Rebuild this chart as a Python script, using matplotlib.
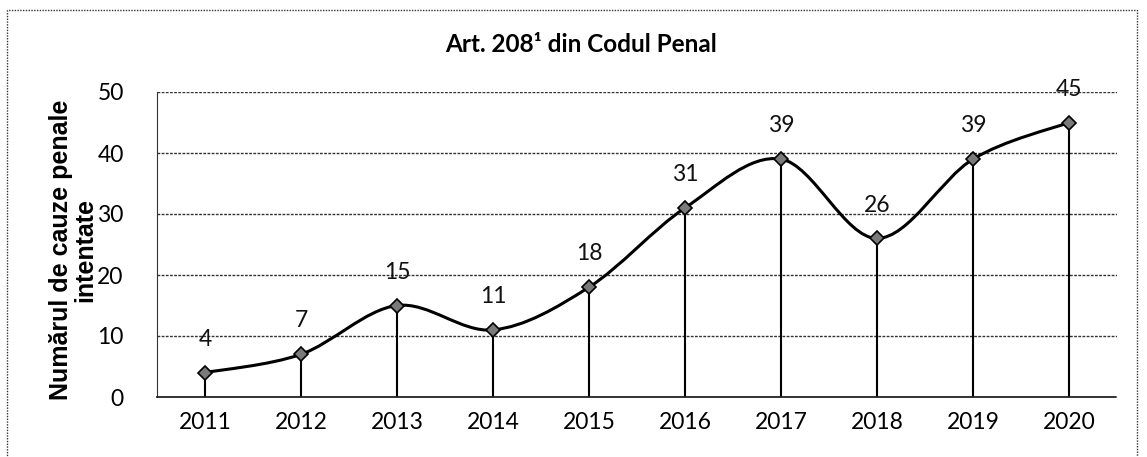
import matplotlib
matplotlib.use('Agg')
import matplotlib.pyplot as plt
from matplotlib.path import Path
from matplotlib.patches import PathPatch, Rectangle

# data
years = ['2011', '2012', '2013', '2014', '2015', '2016', '2017', '2018', '2019', '2020']
cases = [4, 7, 15, 11, 18, 31, 39, 26, 39, 45]
yticks = [0, 10, 20, 30, 40, 50]
title = 'Art. 208¹ din Codul Penal'
ylabel = 'Numărul de cauze penale\nintentate'

plt.rcParams['font.family'] = ['Lato', 'DejaVu Sans']

fig = plt.figure(figsize=(11.47, 4.57), dpi=100)
ax = fig.add_axes([157/1147, 60/457, (1117-157)/1147, (397-92)/457])

x = list(range(len(cases)))

# smoothed line (bezier through the points, like Excel's smoothed line)
pts = list(zip(x, cases))
verts = [pts[0]]
codes = [Path.MOVETO]
for i in range(len(pts) - 1):
    p0 = pts[i - 1] if i > 0 else pts[i]
    p1 = pts[i]
    p2 = pts[i + 1]
    p3 = pts[i + 2] if i + 2 < len(pts) else pts[i + 1]
    c1 = (p1[0] + (p2[0] - p0[0]) / 6, p1[1] + (p2[1] - p0[1]) / 6)
    c2 = (p2[0] - (p3[0] - p1[0]) / 6, p2[1] - (p3[1] - p1[1]) / 6)
    verts += [c1, c2, p2]
    codes += [Path.CURVE4] * 3
ax.add_patch(PathPatch(Path(verts, codes), facecolor='none', edgecolor='black', lw=2.2, zorder=3))

# drop lines
ax.vlines(x, 0, cases, color='black', lw=1.5, zorder=2)
ax.plot(x, cases, linestyle='none', marker='D', markersize=7, markerfacecolor='#7a7a7a',
        markeredgecolor='black', markeredgewidth=1.2, zorder=4)

for xi, v in zip(x, cases):
    ax.annotate(str(v), (xi, v), xytext=(0, 24), textcoords='offset points',
                ha='center', va='center', fontsize=16.5, color='#111111')

ax.set_xlim(-0.5, len(cases) - 0.5)
ax.set_ylim(0, 50)
ax.set_xticks(x)
ax.set_xticklabels(years, fontsize=16.5)
ax.set_yticks(yticks)
ax.set_yticklabels([str(t) for t in yticks], fontsize=16.5)
ax.tick_params(length=0, pad=11)
ax.tick_params(axis='y', pad=24)

for t in yticks[1:]:
    ax.axhline(t, color='#333333', lw=1.0, linestyle=(0, (2, 1)), zorder=1)

for s in ['right', 'top']:
    ax.spines[s].set_visible(False)
ax.spines['left'].set_linestyle((0, (1, 1)))
ax.spines['left'].set_color('#333333')
ax.spines['bottom'].set_linestyle((0, (3, 1)))
ax.spines['bottom'].set_color('#222222')
ax.spines['bottom'].set_linewidth(1.3)

fig.text(73/1147, 1 - 250/457, ylabel, rotation=90, ha='center', va='center',
         fontsize=18, fontweight='bold', family='Liberation Sans', linespacing=1.0)
fig.text(581/1147, 1 - 45/457, title, ha='center', va='center', fontsize=17.5, fontweight='bold')

# outer dotted frame
fig.patches.append(Rectangle((7/1147, -0.05), (1137-7)/1147, 1.05 - 10/457,
                             transform=fig.transFigure, fill=False, edgecolor='#333333',
                             lw=1.0, linestyle=(0, (1, 1))))

fig.savefig('out.png', dpi=100)
